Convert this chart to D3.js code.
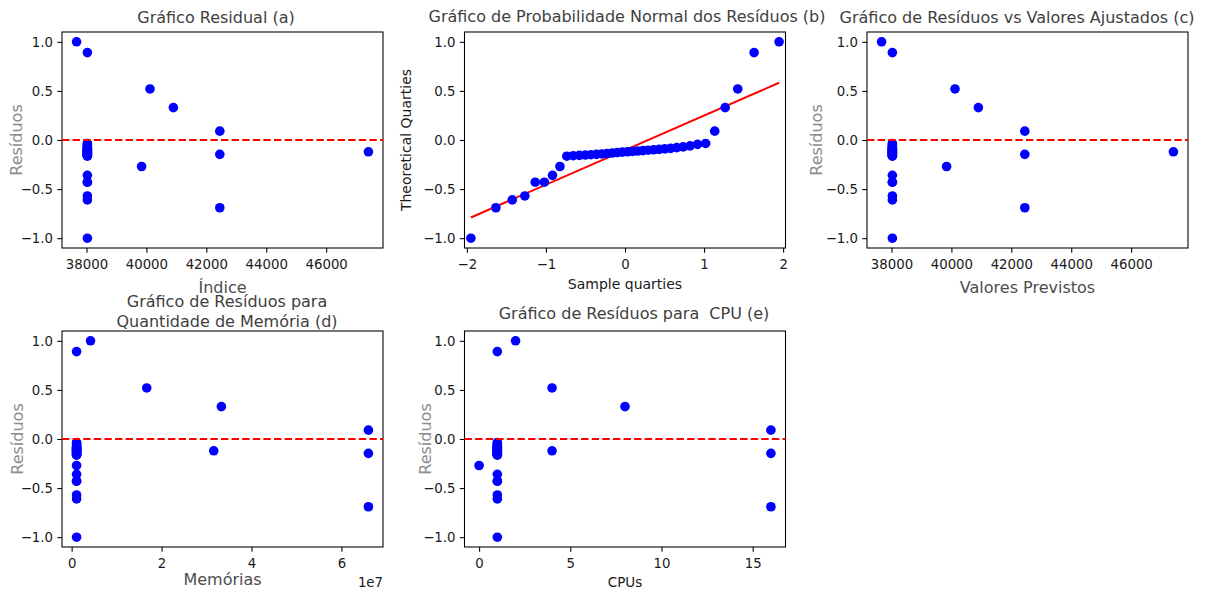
<!DOCTYPE html>
<html>
<head>
<meta charset="utf-8">
<script src="https://cdn.jsdelivr.net/npm/d3@7"></script>
<style>
    body { margin: 0; background: #fff; }
    text { font-family: "DejaVu Sans", sans-serif; }
</style>
</head>
<body>
<div id="chart"></div>
<script>
// residuals, sorted ascending (same order used by every panel)
const residuos = [-1.0, -0.69, -0.61, -0.57, -0.43, -0.43, -0.36, -0.27,
    -0.165, -0.16, -0.157, -0.153, -0.15, -0.146, -0.142, -0.138, -0.133, -0.128,
    -0.124, -0.12, -0.116, -0.112, -0.108, -0.104, -0.1, -0.095, -0.09, -0.085,
    -0.078, -0.07, -0.06, -0.045, -0.035,
    0.09, 0.33, 0.52, 0.89, 1.0];

// theoretical normal quantiles
const quantis = [-1.949, -1.633, -1.426, -1.267, -1.135, -1.020, -0.917, -0.823, -0.736,
    -0.654, -0.577, -0.502, -0.431, -0.361, -0.293, -0.227, -0.161, -0.097, -0.032,
    0.032, 0.097, 0.161, 0.227, 0.293, 0.361, 0.431, 0.502, 0.577, 0.654, 0.736,
    0.823, 0.917, 1.020, 1.135, 1.267, 1.426, 1.633, 1.949];

// fitted values (panels a and c)
const ajustados = [38030, 42450, 38030, 38030, 38030, 38030, 38030, 39840,
    38030, 38030, 38030, 38030, 38030, 42450, 38030, 38030, 38030, 38030, 38030,
    47410, 38030, 38030, 38030, 38030, 38030, 38030, 38030, 38030, 38030, 38030,
    38030, 38030, 38030,
    42450, 40900, 40120, 38030, 37670];

// memory per observation (panel d)
const memorias = [1.1e6, 6.6e7, 1.1e6, 1.1e6, 1.1e6, 1.1e6, 1.1e6, 1.1e6,
    1.1e6, 1.1e6, 1.1e6, 1.1e6, 1.1e6, 6.6e7, 1.1e6, 1.1e6, 1.1e6, 1.1e6, 1.1e6,
    3.16e7, 1.1e6, 1.1e6, 1.1e6, 1.1e6, 1.1e6, 1.1e6, 1.1e6, 1.1e6, 1.1e6, 1.1e6,
    1.1e6, 1.1e6, 1.1e6,
    6.6e7, 3.33e7, 1.67e7, 1.1e6, 4.2e6];

// cpus per observation (panel e)
const cpus = [1, 16, 1, 1, 1, 1, 1, 0,
    1, 1, 1, 1, 1, 16, 1, 1, 1, 1, 1,
    4, 1, 1, 1, 1, 1, 1, 1, 1, 1, 1,
    1, 1, 1,
    16, 8, 4, 1, 2];

// reference line of the qq plot
const qqIntercept = -0.103;
const qqSlope = 0.352;

// tick values
const yTicks = [-1.0, -0.5, 0.0, 0.5, 1.0];
const xTicksAjustados = [38000, 40000, 42000, 44000, 46000];
const xTicksQuantis = [-2, -1, 0, 1, 2];
const xTicksMemoria = [0, 2e7, 4e7, 6e7];
const xTicksCpu = [0, 5, 10, 15];

// matplotlib style default margins (5%)
function pad(ext) {
    let m = (ext[1] - ext[0]) * 0.05;
    return [ext[0] - m, ext[1] + m];
}

class residualPanel {
    constructor(_svg, _cfg) {
        this.svg = _svg;
        this.cfg = _cfg;
        this.initVis();
    }

    initVis() {
        let vis = this;
        let c = vis.cfg;

        vis.width = 321;
        vis.height = 216;

        vis.g = vis.svg.append("g")
            .attr("transform", "translate(" + c.left + "," + c.top + ")");

        vis.x = d3.scaleLinear().domain(c.xDomain).range([0, vis.width]);
        vis.y = d3.scaleLinear().domain(pad(d3.extent(residuos))).range([vis.height, 0]);

        // axes
        let xAxis = vis.g.append("g")
            .attr("transform", "translate(0," + vis.height + ")")
            .call(d3.axisBottom(vis.x).tickValues(c.xTicks).tickFormat(c.xFormat)
                .tickSize(4.7).tickPadding(7.3));
        let yAxis = vis.g.append("g")
            .call(d3.axisLeft(vis.y).tickValues(yTicks).tickFormat(d3.format(".1f"))
                .tickSize(4.7).tickPadding(4.3));

        [xAxis, yAxis].forEach(a => {
            a.select(".domain").remove();
            a.selectAll("line").attr("stroke", "#000").attr("stroke-width", 1.07);
            a.selectAll("text")
                .attr("fill", "#1a1a1a")
                .style("font-size", "13.3px")
                .style("font-family", "DejaVu Sans, sans-serif");
        });

        // frame
        vis.g.append("rect")
            .attr("width", vis.width)
            .attr("height", vis.height)
            .attr("fill", "none")
            .attr("stroke", "#000")
            .attr("stroke-width", 1.07);

        // reference lines
        if (c.qq) {
            let qx = d3.extent(c.xs);
            vis.g.append("line")
                .attr("x1", vis.x(qx[0])).attr("y1", vis.y(qqIntercept + qqSlope * qx[0]))
                .attr("x2", vis.x(qx[1])).attr("y2", vis.y(qqIntercept + qqSlope * qx[1]))
                .attr("stroke", "#ff0000")
                .attr("stroke-width", 2);
        }

        // points
        vis.g.append("g")
            .selectAll("circle")
            .data(c.xs.map((d, i) => ({ x: d, y: residuos[i] })))
            .enter()
            .append("circle")
            .attr("cx", d => vis.x(d.x))
            .attr("cy", d => vis.y(d.y))
            .attr("r", 4.8)
            .attr("fill", "#0000ff");

        if (!c.qq) {
            vis.g.append("line")
                .attr("x1", 0).attr("x2", vis.width)
                .attr("y1", vis.y(0)).attr("y2", vis.y(0))
                .attr("stroke", "#ff0000")
                .attr("stroke-width", 2)
                .attr("stroke-dasharray", "7.4,3.2");
        }

        // title
        c.title.forEach((t, i) => {
            vis.svg.append("text")
                .attr("x", c.titleX)
                .attr("y", c.titleY[i])
                .attr("text-anchor", "middle")
                .attr("fill", "#404040")
                .style("font-size", "16px")
                .text(t);
        });

        // x label
        vis.svg.append("text")
            .attr("x", c.left + vis.width / 2)
            .attr("y", c.xLabelY)
            .attr("text-anchor", "middle")
            .attr("fill", c.xLabelColor)
            .style("font-size", c.xLabelSize)
            .text(c.xLabel);

        // y label
        vis.svg.append("text")
            .attr("transform", "translate(" + c.yLabelX + "," + (c.top + vis.height / 2) + ") rotate(-90)")
            .attr("text-anchor", "middle")
            .attr("dy", "0.36em")
            .attr("fill", c.yLabelColor)
            .style("font-size", c.yLabelSize)
            .text(c.yLabel);

        if (c.offsetText) {
            vis.svg.append("text")
                .attr("x", c.left + vis.width)
                .attr("y", c.top + vis.height + 40)
                .attr("text-anchor", "end")
                .attr("fill", "#1a1a1a")
                .style("font-size", "13.3px")
                .text(c.offsetText);
        }
    }
}

const svg = d3.select("#chart").append("svg")
    .attr("width", 1205)
    .attr("height", 592);

svg.append("rect").attr("width", 1205).attr("height", 592).attr("fill", "#fff");

const fmtInt = d3.format("d");
const grayLab = "#8c8c8c";
const darkLab = "#4d4d4d";

new residualPanel(svg, {
    left: 62, top: 32, xs: ajustados, xDomain: pad(d3.extent(ajustados)),
    xTicks: xTicksAjustados, xFormat: fmtInt,
    title: ["Gráfico Residual (a)"], titleX: 216, titleY: [23],
    xLabel: "Índice", xLabelY: 292.5, xLabelColor: darkLab, xLabelSize: "16px",
    yLabel: "Resíduos", yLabelX: 16.7, yLabelColor: grayLab, yLabelSize: "16px"
});

new residualPanel(svg, {
    left: 464.5, top: 32, xs: quantis, xDomain: [-2.03, 2.03], qq: true,
    xTicks: xTicksQuantis, xFormat: d3.format("d"),
    title: ["Gráfico de Probabilidade Normal dos Resíduos (b)"], titleX: 627, titleY: [22],
    xLabel: "Sample quarties", xLabelY: 289, xLabelColor: "#1a1a1a", xLabelSize: "14px",
    yLabel: "Theoretical Quarties", yLabelX: 405.7, yLabelColor: "#1a1a1a", yLabelSize: "14px"
});

new residualPanel(svg, {
    left: 867, top: 32, xs: ajustados, xDomain: pad(d3.extent(ajustados)),
    xTicks: xTicksAjustados, xFormat: fmtInt,
    title: ["Gráfico de Resíduos vs Valores Ajustados (c)"], titleX: 1017, titleY: [22.5],
    xLabel: "Valores Previstos", xLabelY: 293, xLabelColor: darkLab, xLabelSize: "16px",
    yLabel: "Resíduos", yLabelX: 816.7, yLabelColor: grayLab, yLabelSize: "16px"
});

new residualPanel(svg, {
    left: 62, top: 331, xs: memorias, xDomain: pad(d3.extent(memorias)),
    xTicks: xTicksMemoria, xFormat: d => fmtInt(d / 1e7), offsetText: "1e7",
    title: ["Gráfico de Resíduos para", "Quantidade de Memória (d)"], titleX: 227, titleY: [306.5, 327.3],
    xLabel: "Memórias", xLabelY: 585, xLabelColor: darkLab, xLabelSize: "16px",
    yLabel: "Resíduos", yLabelX: 17.3, yLabelColor: grayLab, yLabelSize: "16px"
});

new residualPanel(svg, {
    left: 464.5, top: 331, xs: cpus, xDomain: pad(d3.extent(cpus)),
    xTicks: xTicksCpu, xFormat: fmtInt,
    title: ["Gráfico de Resíduos para\u00a0 CPU (e)"], titleX: 634, titleY: [318.7],
    xLabel: "CPUs", xLabelY: 586.7, xLabelColor: "#1a1a1a", xLabelSize: "13.5px",
    yLabel: "Resíduos", yLabelX: 425, yLabelColor: grayLab, yLabelSize: "16px"
});
</script>
</body>
</html>
